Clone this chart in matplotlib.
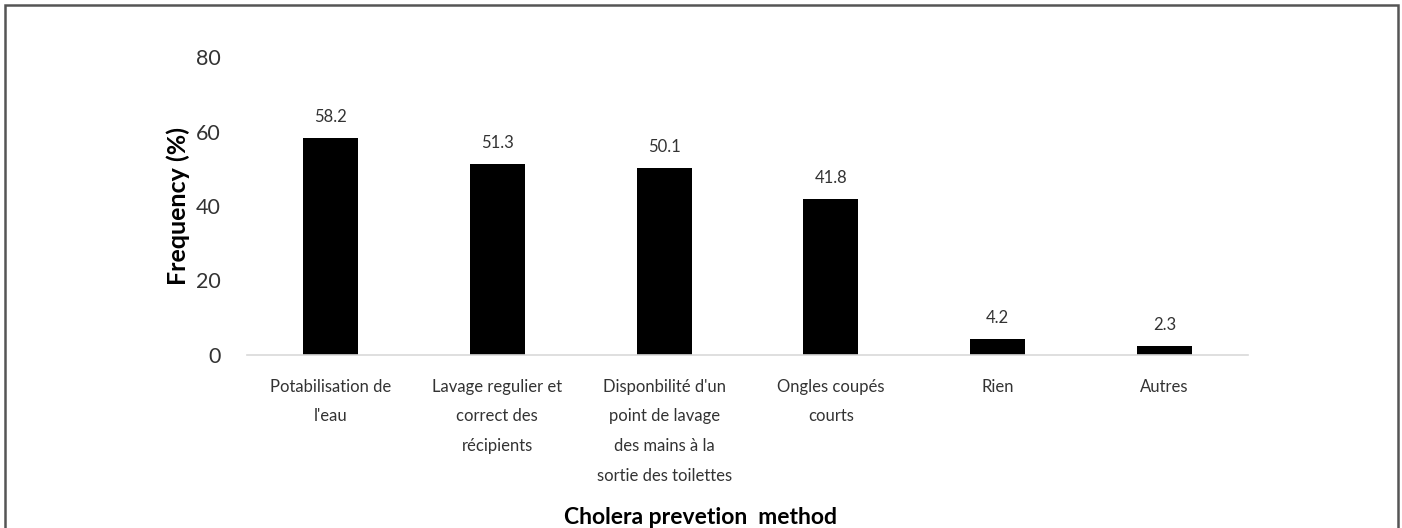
import matplotlib
matplotlib.use("Agg")
import matplotlib.pyplot as plt
from matplotlib.patches import Rectangle

# catégories et fréquences (%)
methods = [
    "Potabilisation de\nl'eau",
    "Lavage regulier et\ncorrect des\nrécipients",
    "Disponbilité d'un\npoint de lavage\ndes mains à la\nsortie des toilettes",
    "Ongles coupés\ncourts",
    "Rien",
    "Autres",
]
freq = [58.2, 51.3, 50.1, 41.8, 4.2, 2.3]
yticks = [0, 20, 40, 60, 80]

plt.rcParams["font.family"] = ["Lato", "DejaVu Sans"]

fig = plt.figure(figsize=(14.02, 5.28), dpi=100)
ax = fig.add_axes([247 / 1402, 1 - 355 / 528, 1001 / 1402, 298 / 528])

x = range(len(methods))
bars = ax.bar(x, freq, width=0.33, color="black")
for b, v in zip(bars, freq):
    ax.text(b.get_x() + b.get_width() / 2, v + 3.5, f"{v}",
            ha="center", va="bottom", fontsize=12, color="#333333")

ax.set_xlim(-0.5, len(methods) - 0.5)
ax.set_ylim(0, 80)
ax.set_yticks(yticks)
ax.set_xticks(list(x))
ax.set_xticklabels(methods, fontsize=12, color="#333333", linespacing=2.05, va="top")
ax.tick_params(axis="y", labelsize=15.5, colors="#333333", length=0, pad=19)
ax.tick_params(axis="x", length=0, pad=17)

for s in ["top", "right", "left"]:
    ax.spines[s].set_visible(False)
ax.spines["bottom"].set_color("#d9d9d9")
ax.spines["bottom"].set_linewidth(1.2)

ax.set_ylabel("Frequency (%)", fontsize=18, fontweight="bold", labelpad=4)
fig.text(700 / 1402, 1 - 517 / 528, "Cholera prevetion  method",
         fontsize=16.5, fontweight="bold", ha="center", va="center")

# cadre autour de la figure
fig.patches.append(Rectangle((5 / 1402, -0.05), 1393 / 1402, 1.05 - 5 / 528,
                             transform=fig.transFigure, fill=False,
                             edgecolor="#555555", linewidth=1.8))

fig.savefig("out.png", dpi=100)
